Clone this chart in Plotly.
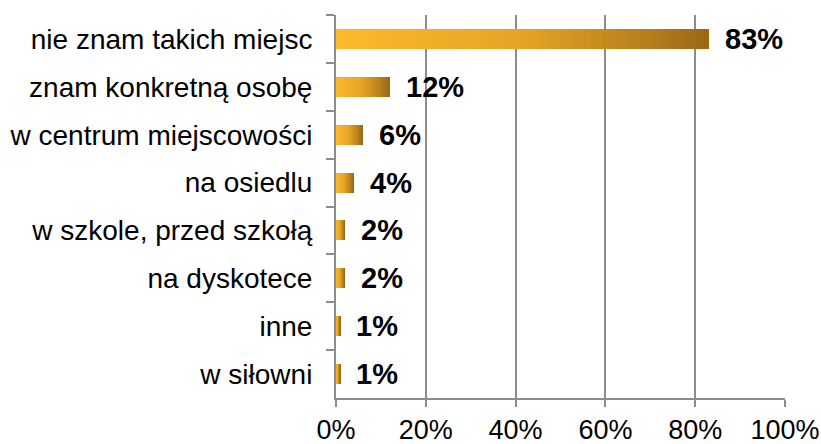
import plotly.graph_objects as go

categories = ["nie znam takich miejsc", "znam konkretną osobę", "w centrum miejscowości",
              "na osiedlu", "w szkole, przed szkołą", "na dyskotece", "inne", "w siłowni"]
values = [83, 12, 6, 4, 2, 2, 1, 1]
value_labels = ["83%", "12%", "6%", "4%", "2%", "2%", "1%", "1%"]
x_ticks = [0, 20, 40, 60, 80, 100]
x_tick_labels = ["0%", "20%", "40%", "60%", "80%", "100%"]

# gradient stops (left -> right of each bar)
stops = [(0.0, (251, 186, 46)), (0.5, (229, 164, 36)), (0.85, (180, 124, 28)), (1.0, (152, 104, 20))]


def grad(t):
    for (t0, c0), (t1, c1) in zip(stops[:-1], stops[1:]):
        if t <= t1:
            f = (t - t0) / (t1 - t0) if t1 > t0 else 0
            return "rgb(%d,%d,%d)" % tuple(round(a + (b - a) * f) for a, b in zip(c0, c1))
    return "rgb(%d,%d,%d)" % stops[-1][1]


N = 60
fig = go.Figure()
for i in range(N):
    fig.add_trace(go.Bar(
        y=categories, x=[v / N for v in values], orientation="h",
        marker=dict(color=grad((i + 0.5) / N), line=dict(width=0)),
        width=0.42, showlegend=False, hoverinfo="skip",
    ))

for c, v, lab in zip(categories, values, value_labels):
    fig.add_annotation(x=v, y=c, text="<b>%s</b>" % lab, showarrow=False,
                       xanchor="left", yanchor="middle", xshift=14, yshift=0,
                       font=dict(size=29, color="#000000", family="Liberation Sans, Arial"))

fig.update_layout(
    barmode="stack", bargap=0,
    width=821, height=444,
    margin=dict(l=336, r=36, t=15, b=46, autoexpand=False),
    plot_bgcolor="white", paper_bgcolor="white",
    font=dict(family="Liberation Sans, Arial", color="#000000"),
)
fig.update_xaxes(range=[0, 100], tickvals=x_ticks, ticktext=x_tick_labels,
                 showgrid=True, gridcolor="#8c8c8c", gridwidth=2,
                 ticks="outside", ticklen=7, tickcolor="#8c8c8c", tickwidth=2,
                 showline=True, linecolor="#8c8c8c", linewidth=2,
                 tickfont=dict(size=27), zeroline=False, fixedrange=True,
                 automargin=False, ticklabelstandoff=0)
fig.update_yaxes(autorange="reversed", categoryorder="array", categoryarray=categories,
                 showgrid=False, ticks="outside", ticklen=8, tickcolor="#8c8c8c", tickwidth=2,
                 showline=True, linecolor="#8c8c8c", linewidth=2,
                 tickson="boundaries", tickfont=dict(size=28), ticklabelstandoff=16,
                 fixedrange=True, automargin=False)

fig.write_html("out.html", config={"displayModeBar": False},
               post_script="document.body.style.margin='0';document.body.style.overflow='hidden';")
